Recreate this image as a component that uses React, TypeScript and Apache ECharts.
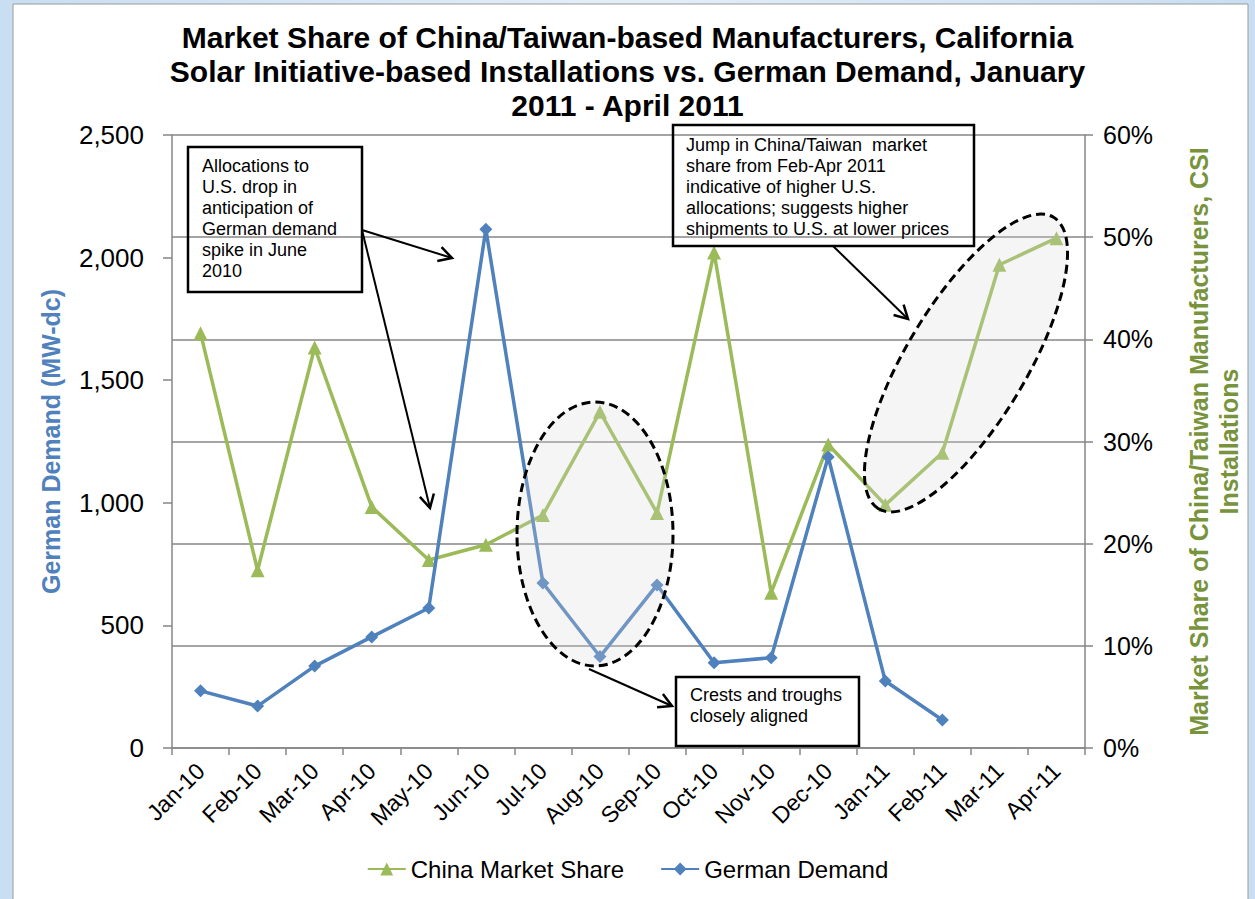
import React, { useEffect, useRef } from "react";
import * as echarts from "echarts";

const categories = [
  "Jan-10", "Feb-10", "Mar-10", "Apr-10", "May-10", "Jun-10", "Jul-10", "Aug-10",
  "Sep-10", "Oct-10", "Nov-10", "Dec-10", "Jan-11", "Feb-11", "Mar-11", "Apr-11",
];
const chinaShare = [
  0.406, 0.174, 0.392, 0.236, 0.184, 0.199, 0.228, 0.329,
  0.23, 0.485, 0.152, 0.297, 0.238, 0.289, 0.473, 0.499,
];
const germanDemand: (number | null)[] = [
  233, 171, 334, 453, 571, 2116, 673, 373,
  665, 348, 368, 1187, 273, 114, null, null,
];
const leftAxis = { min: 0, max: 2500, interval: 500 };
const rightAxis = { min: 0, max: 0.6, interval: 0.1 };

const titleLines = [
  "Market Share of China/Taiwan-based Manufacturers, California",
  "Solar Initiative-based Installations vs. German Demand, January",
  "2011 - April 2011",
];
const note1 = ["Allocations to", "U.S. drop in", "anticipation of", "German demand", "spike in June", "2010"];
const note2 = [
  "Jump in China/Taiwan  market",
  "share from Feb-Apr 2011",
  "indicative of higher U.S.",
  "allocations; suggests higher",
  "shipments to U.S. at lower prices",
];
const note3 = ["Crests and troughs", "closely aligned"];

const GREEN = "#9BBB59";
const BLUE = "#4F81BD";
const GRID = "#868686";
const FONT = "'Liberation Sans', Arial, sans-serif";

function arrow(x1: number, y1: number, x2: number, y2: number) {
  const ang = Math.atan2(y2 - y1, x2 - x1);
  const L = 15;
  const a = 0.5;
  const p1 = [x2 - L * Math.cos(ang - a), y2 - L * Math.sin(ang - a)];
  const p2 = [x2 - L * Math.cos(ang + a), y2 - L * Math.sin(ang + a)];
  return [
    { type: "line", z: 20, shape: { x1, y1, x2, y2 }, style: { stroke: "#000", lineWidth: 2 } },
    { type: "polyline", z: 20, shape: { points: [p1, [x2, y2], p2] }, style: { stroke: "#000", lineWidth: 2.5, fill: null } },
  ];
}

function note(lines: string[], bx: number, by: number, bw: number, bh: number, tx: number, ty: number) {
  return [
    { type: "rect", z: 20, shape: { x: bx, y: by, width: bw, height: bh }, style: { fill: null, stroke: "#000", lineWidth: 2.5 } },
    {
      type: "text", z: 21, x: tx, y: ty,
      style: { text: lines.join("\n"), font: `18px ${FONT}`, lineHeight: 21, fill: "#000", verticalAlign: "top", align: "left" },
    },
  ];
}

export default function App() {
  const ref = useRef<HTMLDivElement>(null);
  useEffect(() => {
    document.body.style.margin = "0";
    const chart = echarts.init(ref.current!, undefined, { renderer: "svg" });
    const ellipseStyle = { fill: "rgba(215,215,215,0.25)", stroke: "#000", lineWidth: 3, lineDash: [9, 5] };
    chart.setOption({
      animation: false,
      backgroundColor: "transparent",
      textStyle: { fontFamily: FONT },
      title: {
        text: titleLines.join("\n"),
        left: "center",
        top: 20,
        padding: 0,
        textStyle: { fontSize: 30, fontWeight: "bold", color: "#000", lineHeight: 34, fontFamily: FONT },
      },
      grid: { left: 172, right: 170, top: 135, bottom: 151, containLabel: false },
      legend: {
        top: 852,
        left: "center",
        itemWidth: 38,
        itemHeight: 16,
        itemGap: 36,
        textStyle: { fontSize: 24, color: "#000", fontFamily: FONT },
        data: ["China Market Share", "German Demand"],
      },
      xAxis: {
        type: "category",
        data: categories,
        boundaryGap: true,
        axisLine: { lineStyle: { color: GRID, width: 1.5 } },
        axisTick: { show: true, interval: 0, length: 7, lineStyle: { color: GRID, width: 1.5 } },
        axisLabel: { interval: 0, rotate: 45, fontSize: 23, color: "#000", margin: 19 },
      },
      yAxis: [
        {
          type: "value",
          position: "left",
          ...leftAxis,
          name: "German Demand (MW-dc)",
          nameLocation: "middle",
          nameRotate: 90,
          nameGap: 109,
          nameTextStyle: { color: BLUE, fontSize: 25, fontWeight: "bold" },
          axisLine: { show: true, lineStyle: { color: GRID, width: 1.5 } },
          axisTick: { show: true, length: 9, lineStyle: { color: GRID, width: 1.5 } },
          splitLine: { show: false },
          axisLabel: {
            fontSize: 26, color: "#000", margin: 28,
            formatter: (v: number) => v.toLocaleString("en-US"),
          },
        },
        {
          type: "value",
          position: "right",
          ...rightAxis,
          name: "Market Share of China/Taiwan Manufacturers, CSI\nInstallations",
          nameLocation: "middle",
          nameRotate: 90,
          nameGap: 99,
          nameTextStyle: { color: "#77933C", fontSize: 25, fontWeight: "bold", lineHeight: 30, align: "center" },
          axisLine: { show: true, lineStyle: { color: GRID, width: 1.5 } },
          axisTick: { show: true, length: 8, lineStyle: { color: GRID, width: 1.5 } },
          splitLine: { show: true, lineStyle: { color: GRID, width: 1.5 } },
          axisLabel: {
            fontSize: 25, color: "#000", margin: 18,
            formatter: (v: number) => `${Math.round(v * 100)}%`,
          },
        },
      ],
      series: [
        {
          name: "China Market Share",
          type: "line",
          yAxisIndex: 1,
          data: chinaShare,
          symbol: "triangle",
          symbolSize: 14,
          showAllSymbol: true,
          lineStyle: { color: GREEN, width: 3.5 },
          itemStyle: { color: GREEN },
          z: 3,
        },
        {
          name: "German Demand",
          type: "line",
          yAxisIndex: 0,
          data: germanDemand,
          symbol: "diamond",
          symbolSize: 13,
          showAllSymbol: true,
          connectNulls: false,
          lineStyle: { color: BLUE, width: 3.5 },
          itemStyle: { color: BLUE },
          z: 4,
        },
      ],
      graphic: [
        { type: "rect", z: -1, shape: { x: 13, y: 4, width: 1235, height: 910 }, style: { fill: "#fff", stroke: "#9a9a9a", lineWidth: 1 } },
        { type: "ellipse", z: 10, shape: { cx: 595, cy: 534, rx: 78, ry: 132 }, style: ellipseStyle },
        {
          type: "ellipse", z: 10, x: 966, y: 363, rotation: (59 * Math.PI) / 180,
          shape: { cx: 0, cy: 0, rx: 170, ry: 60 }, style: ellipseStyle,
        },
        ...note(note1, 188, 147, 174, 145, 202, 155),
        ...note(note2, 673, 125, 301, 121, 686, 134),
        ...note(note3, 676, 677, 183, 69, 690, 684),
        ...arrow(362, 230, 452, 258),
        ...arrow(362, 230, 430, 508),
        ...arrow(833, 246, 908, 319),
        ...arrow(589, 669, 672, 706),
      ],
    });
    return () => chart.dispose();
  }, []);
  return (
    <div
      ref={ref}
      style={{
        width: 1255,
        height: 899,
        background: "linear-gradient(90deg, #c9def2 0%, #e3eef8 50%, #c9def2 100%)",
      }}
    />
  );
}
